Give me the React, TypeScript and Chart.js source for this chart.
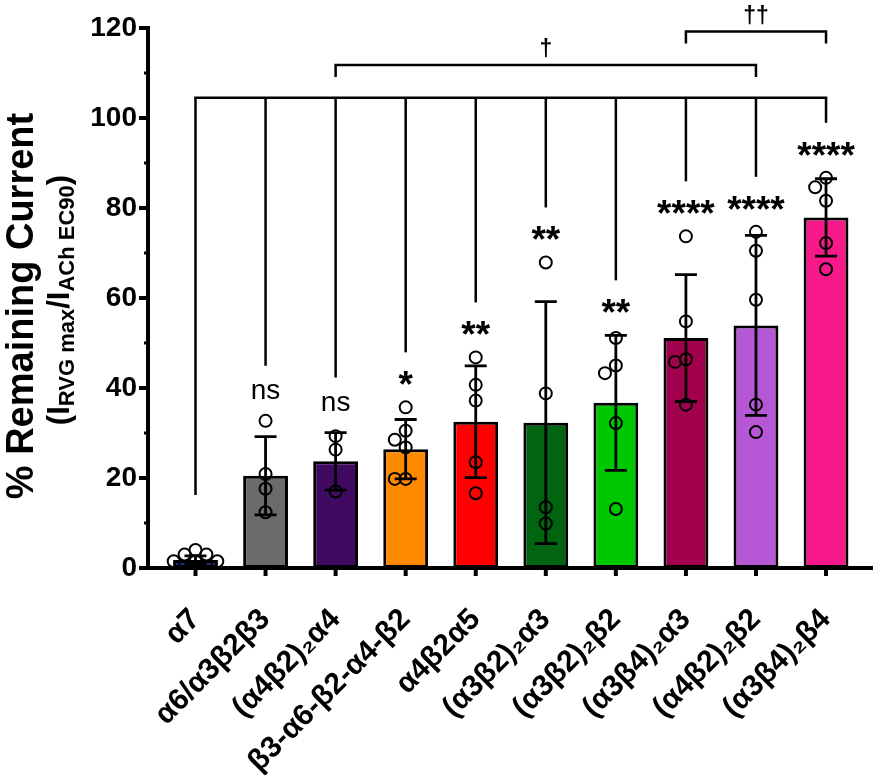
import React, { useEffect, useRef } from "react";
import { Chart, registerables } from "chart.js";

Chart.register(...registerables);

// ---------- data ----------
const categories = [
  "α7",
  "α6/α3β2β3",
  "(α4β2)₂α4",
  "β3-α6-β2-α4-β2",
  "α4β2α5",
  "(α3β2)₂α3",
  "(α3β2)₂β2",
  "(α3β4)₂α3",
  "(α4β2)₂β2",
  "(α3β4)₂β4",
];
const meanValues = [1.8, 20.5, 23.7, 26.4, 32.5, 32.3, 36.7, 51.1, 53.9, 77.9];
const sdValues = [0.9, 8.7, 6.4, 6.6, 12.4, 26.9, 15.0, 14.1, 20.0, 8.6];
const barColors = [
  "#1c2a8a",
  "#6b6b6b",
  "#3f0a60",
  "#ff8a00",
  "#ff0000",
  "#006410",
  "#00c800",
  "#a0004c",
  "#b657d6",
  "#f7198a",
];
const significance = ["", "ns", "ns", "*", "**", "**", "**", "****", "****", "****"];

const pointsA7 = [4.0, 3.0, 3.0, 1.5, 1.5, 1.5];
const pointsA6 = [32.7, 20.9, 17.6, 12.4];
const pointsA4B2A4 = [29.3, 26.3, 17.0];
const pointsB3A6 = [35.7, 30.5, 28.5, 26.8, 19.8, 19.8];
const pointsA4B2A5 = [46.8, 40.7, 37.2, 23.5, 16.6];
const pointsA3B2A3 = [67.9, 38.8, 13.5, 9.9];
const pointsA3B2B2 = [51.1, 45.0, 43.3, 32.2, 13.1];
const pointsA3B4A3 = [73.7, 54.8, 46.4, 45.8, 36.3];
const pointsA4B2B2 = [74.7, 70.5, 59.6, 36.3, 30.2];
const pointsA3B4B4 = [86.7, 84.6, 81.6, 72.2, 66.4];
const replicates = [
  pointsA7,
  pointsA6,
  pointsA4B2A4,
  pointsB3A6,
  pointsA4B2A5,
  pointsA3B2A3,
  pointsA3B2B2,
  pointsA3B4A3,
  pointsA4B2B2,
  pointsA3B4B4,
];

const yMajorTicks = [0, 20, 40, 60, 80, 100, 120];
const yMinorTicks = [10, 30, 50, 70, 90, 110];

// comparison brackets (value levels on the y scale)
const comparisonLevel = 104.5;
const bracketFrom = [2, 7];
const bracketTo = [8, 9];
const bracketLevels = [111.8, 119.2];
const bracketLabels = ["†", "††"];

// ---------- layout ----------
const W = 886;
const H = 775;
const AREA_LEFT = 148;
const AREA_RIGHT = 880;
const AREA_TOP = 28;
const AREA_BOTTOM = 568;
const X_MIN = -0.678;
const X_MAX = 9.664;
const Y_MIN = 0;
const Y_MAX = 120;
const FONT = "'Liberation Sans', Arial, Helvetica, sans-serif";

const PX_PER_X = (AREA_RIGHT - AREA_LEFT) / (X_MAX - X_MIN);
const PX_PER_Y = (AREA_BOTTOM - AREA_TOP) / (Y_MAX - Y_MIN);
const STEP_PX = 11;
const MIN_DIST = 11;

function swarm(values: number[], idx: number) {
  const placed: { dx: number; py: number }[] = [];
  const sorted = [...values].sort((a, b) => b - a);
  const out: { x: number; y: number }[] = [];
  const cands = [0, -1, 1, -2, 2, -3, 3, -4, 4];
  for (const v of sorted) {
    const py = v * PX_PER_Y;
    let dx = 0;
    for (const c of cands) {
      const cx = c * STEP_PX;
      if (placed.every((p) => Math.hypot(p.dx - cx, p.py - py) >= MIN_DIST)) {
        dx = cx;
        break;
      }
    }
    placed.push({ dx, py });
    out.push({ x: idx + dx / PX_PER_X, y: v });
  }
  return out;
}

const decorPlugin = {
  id: "decor",
  afterDatasetsDraw(chart: any) {
    const ctx: CanvasRenderingContext2D = chart.ctx;
    const xs = chart.scales.x;
    const ys = chart.scales.y;
    ctx.save();
    ctx.strokeStyle = "#000";
    ctx.fillStyle = "#000";
    ctx.lineCap = "butt";

    // error bars
    ctx.lineWidth = 2.8;
    meanValues.forEach((m, i) => {
      const x = xs.getPixelForValue(i);
      const yt = ys.getPixelForValue(m + sdValues[i]);
      const yb = ys.getPixelForValue(Math.max(0, m - sdValues[i]));
      ctx.beginPath();
      ctx.moveTo(x, yt);
      ctx.lineTo(x, yb);
      ctx.moveTo(x - 11, yt);
      ctx.lineTo(x + 11, yt);
      ctx.moveTo(x - 11, yb);
      ctx.lineTo(x + 11, yb);
      ctx.stroke();
    });

    // axis tick marks
    ctx.lineWidth = 4;
    yMajorTicks.forEach((v) => {
      const y = ys.getPixelForValue(v);
      ctx.beginPath();
      ctx.moveTo(chart.chartArea.left - 9, y);
      ctx.lineTo(chart.chartArea.left, y);
      ctx.stroke();
    });
    ctx.lineWidth = 3;
    yMinorTicks.forEach((v) => {
      const y = ys.getPixelForValue(v);
      ctx.beginPath();
      ctx.moveTo(chart.chartArea.left - 4, y);
      ctx.lineTo(chart.chartArea.left, y);
      ctx.stroke();
    });
    ctx.lineWidth = 4;
    categories.forEach((_, i) => {
      const x = xs.getPixelForValue(i);
      ctx.beginPath();
      ctx.moveTo(x, chart.chartArea.bottom);
      ctx.lineTo(x, chart.chartArea.bottom + 8);
      ctx.stroke();
    });

    // significance labels + comparison drops
    ctx.lineWidth = 2.5;
    const lvl = ys.getPixelForValue(comparisonLevel);
    const x0 = xs.getPixelForValue(0);
    const x9 = xs.getPixelForValue(categories.length - 1);
    ctx.beginPath();
    ctx.moveTo(x0 - 1.25, lvl);
    ctx.lineTo(x9 + 1.25, lvl);
    ctx.stroke();
    meanValues.forEach((m, i) => {
      const top = Math.max(m + sdValues[i], ...replicates[i]);
      const topPx = ys.getPixelForValue(top);
      const x = xs.getPixelForValue(i);
      const dropEnd = topPx - 55;
      ctx.beginPath();
      ctx.moveTo(x, lvl);
      ctx.lineTo(x, dropEnd);
      ctx.stroke();
      const s = significance[i];
      if (s) {
        const isStar = s.startsWith("*");
        ctx.font = isStar ? `bold 37px ${FONT}` : `28px ${FONT}`;
        ctx.textAlign = "center";
        ctx.textBaseline = "alphabetic";
        const mt = ctx.measureText(s);
        const center = topPx - 29;
        const y = center + (mt.actualBoundingBoxAscent - mt.actualBoundingBoxDescent) / 2;
        ctx.fillText(s, x, y);
      }
    });

    // upper brackets
    bracketFrom.forEach((f, k) => {
      const xa = xs.getPixelForValue(f);
      const xb = xs.getPixelForValue(bracketTo[k]);
      const y = ys.getPixelForValue(bracketLevels[k]);
      ctx.beginPath();
      ctx.moveTo(xa, y + 12);
      ctx.lineTo(xa, y);
      ctx.lineTo(xb, y);
      ctx.lineTo(xb, y + 12);
      ctx.stroke();
      ctx.font = `bold 23px ${FONT}`;
      ctx.textAlign = "center";
      ctx.textBaseline = "alphabetic";
      const mt = ctx.measureText(bracketLabels[k]);
      const center = y - 17;
      ctx.fillText(
        bracketLabels[k],
        (xa + xb) / 2,
        center + (mt.actualBoundingBoxAscent - mt.actualBoundingBoxDescent) / 2
      );
    });

    // y axis title
    const cy = 306;
    ctx.save();
    ctx.translate(23, cy);
    ctx.rotate(-Math.PI / 2);
    ctx.font = `bold 38px ${FONT}`;
    ctx.textAlign = "center";
    ctx.textBaseline = "middle";
    ctx.fillText("% Remaining Current", 0, 0);
    ctx.restore();

    const pieces: { t: string; sub: boolean }[] = [
      { t: "(I", sub: false },
      { t: "RVG max", sub: true },
      { t: "/I", sub: false },
      { t: "ACh EC90", sub: true },
      { t: ")", sub: false },
    ];
    const mainF = `bold 31px ${FONT}`;
    const subF = `bold 22px ${FONT}`;
    let total = 0;
    pieces.forEach((p) => {
      ctx.font = p.sub ? subF : mainF;
      total += ctx.measureText(p.t).width;
    });
    ctx.save();
    ctx.translate(60, cy - 6);
    ctx.rotate(-Math.PI / 2);
    ctx.textAlign = "left";
    ctx.textBaseline = "middle";
    let px = -total / 2;
    pieces.forEach((p) => {
      ctx.font = p.sub ? subF : mainF;
      ctx.fillText(p.t, px, p.sub ? 8 : 0);
      px += ctx.measureText(p.t).width;
    });
    ctx.restore();

    ctx.restore();
  },
};

export default function App() {
  const canvasRef = useRef<HTMLCanvasElement | null>(null);

  useEffect(() => {
    const canvas = canvasRef.current;
    if (!canvas) return;
    const scatterData = replicates.flatMap((vals, i) => swarm(vals, i));
    const chart = new Chart(canvas, {
      type: "bar",
      data: {
        datasets: [
          {
            type: "bar",
            data: meanValues.map((v, i) => ({ x: i, y: v })) as any,
            backgroundColor: barColors,
            borderColor: "#000",
            borderWidth: 3,
            borderSkipped: false,
            barPercentage: 0.64,
            categoryPercentage: 1,
            order: 2,
          } as any,
          {
            type: "scatter",
            data: scatterData as any,
            pointRadius: 6,
            pointBorderWidth: 2,
            pointBackgroundColor: "rgba(0,0,0,0)",
            pointBorderColor: "#000",
            clip: false,
            order: 1,
          } as any,
        ],
      },
      options: {
        responsive: false,
        animation: false,
        layout: { padding: { left: 0, right: W - AREA_RIGHT, top: AREA_TOP, bottom: 0 } },
        plugins: {
          legend: { display: false },
          tooltip: { enabled: false },
        },
        scales: {
          x: {
            type: "linear",
            min: X_MIN,
            max: X_MAX,
            offset: false,
            afterBuildTicks: (s: any) => {
              s.ticks = categories.map((_, i) => ({ value: i }));
            },
            afterFit: (s: any) => {
              s.height = H - AREA_BOTTOM;
            },
            ticks: {
              autoSkip: false,
              minRotation: 45,
              maxRotation: 45,
              padding: 34,
              color: "#000",
              font: { family: FONT, size: 30, weight: "bold" },
              callback: (v: any) => categories[Math.round(Number(v))] ?? "",
            },
            grid: { display: false, drawTicks: false },
            border: { display: true, color: "#000", width: 4 },
          } as any,
          y: {
            type: "linear",
            min: Y_MIN,
            max: Y_MAX,
            afterBuildTicks: (s: any) => {
              s.ticks = yMajorTicks.map((v) => ({ value: v }));
            },
            afterFit: (s: any) => {
              s.width = AREA_LEFT;
            },
            ticks: {
              padding: 11,
              color: "#000",
              font: { family: FONT, size: 28, weight: "bold" },
            },
            grid: { display: false, drawTicks: false },
            border: { display: true, color: "#000", width: 4 },
          } as any,
        },
      },
      plugins: [decorPlugin],
    });
    return () => chart.destroy();
  }, []);

  return (
    <div style={{ position: "absolute", left: 0, top: 0, width: W, height: H, background: "#fff" }}>
      <canvas ref={canvasRef} width={W} height={H} style={{ width: W, height: H, display: "block" }} />
    </div>
  );
}
